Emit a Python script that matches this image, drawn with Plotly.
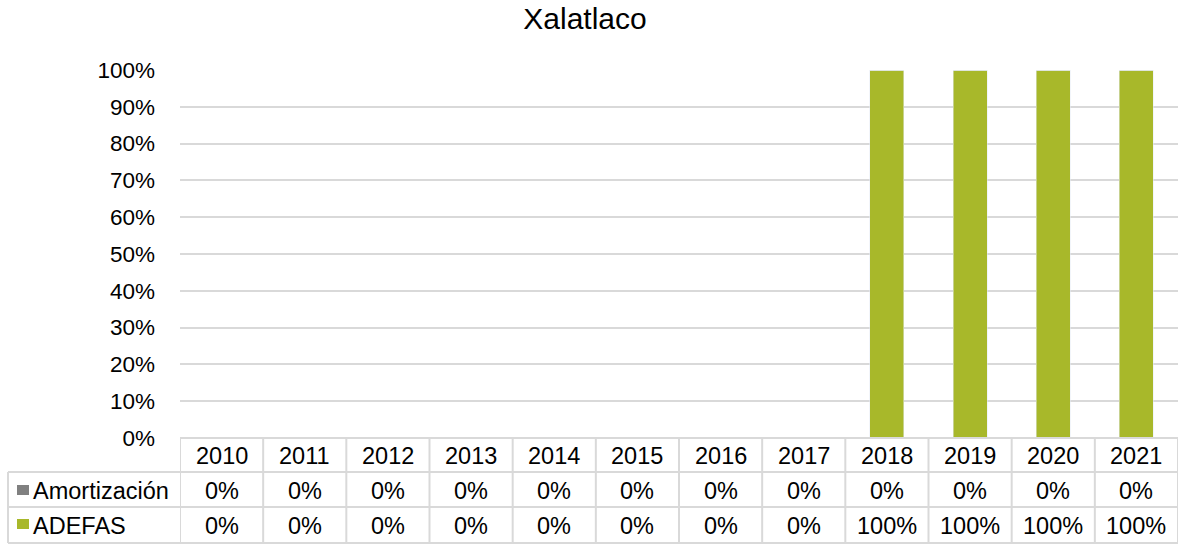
import plotly.graph_objects as go

years = ["2010", "2011", "2012", "2013", "2014", "2015", "2016", "2017", "2018", "2019", "2020", "2021"]
amortizacion = [0, 0, 0, 0, 0, 0, 0, 0, 0, 0, 0, 0]
adefas = [0, 0, 0, 0, 0, 0, 0, 0, 1, 1, 1, 1]
series_names = ["Amortización", "ADEFAS"]
series_colors = ["#808080", "#A8B82A"]
y_ticks = [0, 0.1, 0.2, 0.3, 0.4, 0.5, 0.6, 0.7, 0.8, 0.9, 1.0]

W, H = 1180, 544
L, R, T, B = 180, 2, 70, 106
plot_h = H - T - B
plot_w = W - L - R

def py(pix):
    return (H - B - pix) / plot_h

def px(pix):
    return (pix - L) / plot_w

fig = go.Figure()
xs = list(range(len(years)))
fig.add_trace(go.Bar(x=xs, y=adefas, name="ADEFAS", marker_color=series_colors[1], width=0.41))
fig.add_trace(go.Bar(x=xs, y=amortizacion, name="Amortización", marker_color=series_colors[0], width=0.41))

font_fam = "Liberation Sans, Arial, sans-serif"
line_col = "#D9D9D9"
fs = 23.5
shapes = []
ann = []

y_top = 0
y_r1 = py(472)
y_r2 = py(507)
y_bot = py(543)
x_left_paper = px(8)

# horizontal lines
shapes.append(dict(type="line", xref="x", yref="paper", x0=-0.5, x1=11.5, y0=y_top, y1=y_top, line=dict(color=line_col, width=2)))
for yy in (y_r1, y_r2, y_bot):
    shapes.append(dict(type="line", xref="paper", yref="paper", x0=x_left_paper, x1=1, y0=yy, y1=yy, line=dict(color=line_col, width=2)))
# vertical lines
for i in range(len(years) + 1):
    shapes.append(dict(type="line", xref="x", yref="paper", x0=i - 0.5, x1=i - 0.5, y0=y_top, y1=y_bot, line=dict(color=line_col, width=2)))
shapes.append(dict(type="line", xref="paper", yref="paper", x0=x_left_paper, x1=x_left_paper, y0=y_r1, y1=y_bot, line=dict(color=line_col, width=2)))

y_hdr = py(456)
y_a = py(491)
y_d = py(526)
txt_font = dict(size=fs, color="#000000", family=font_fam)
for i, yr in enumerate(years):
    ann.append(dict(x=i, y=y_hdr, xref="x", yref="paper", text=yr, showarrow=False, xanchor="center", yanchor="middle", font=txt_font))
    ann.append(dict(x=i, y=y_a, xref="x", yref="paper", text=f"{round(amortizacion[i]*100)}%", showarrow=False, xanchor="center", yanchor="middle", font=txt_font))
    ann.append(dict(x=i, y=y_d, xref="x", yref="paper", text=f"{round(adefas[i]*100)}%", showarrow=False, xanchor="center", yanchor="middle", font=txt_font))

# row labels with legend keys
for name, col, yy, kc in ((series_names[0], series_colors[0], y_a, 490), (series_names[1], series_colors[1], y_d, 524)):
    ann.append(dict(x=px(31), y=yy, xref="paper", yref="paper", xanchor="left", yanchor="middle", text=name, showarrow=False,
                    font=txt_font))
    shapes.append(dict(type="rect", xref="paper", yref="paper",
                       x0=px(17), x1=px(29), y0=py(kc + 5), y1=py(kc - 5),
                       fillcolor=col, line=dict(width=0)))

fig.update_layout(
    width=W, height=H,
    margin=dict(l=L, r=R, t=T, b=B),
    barmode="stack",
    showlegend=False,
    plot_bgcolor="white", paper_bgcolor="white",
    title=dict(text="Xalatlaco", x=585 / W, xanchor="center", y=1 - 18 / H, yanchor="middle",
               font=dict(size=30, color="#000000", family=font_fam)),
    xaxis=dict(range=[-0.5, 11.5], showticklabels=False, showgrid=False, zeroline=False, showline=False, fixedrange=True),
    yaxis=dict(range=[0, 1], tickvals=y_ticks, tickformat=".0%", showgrid=True, gridcolor=line_col, gridwidth=2,
               zeroline=False, showline=False, ticklabelstandoff=24,
               tickfont=dict(size=22.5, color="#000000", family=font_fam)),
    shapes=shapes,
    annotations=ann,
)
fig.write_html("out.html", config={"displayModeBar": False},
               post_script="document.body.style.margin='0';document.body.style.overflow='hidden';")
